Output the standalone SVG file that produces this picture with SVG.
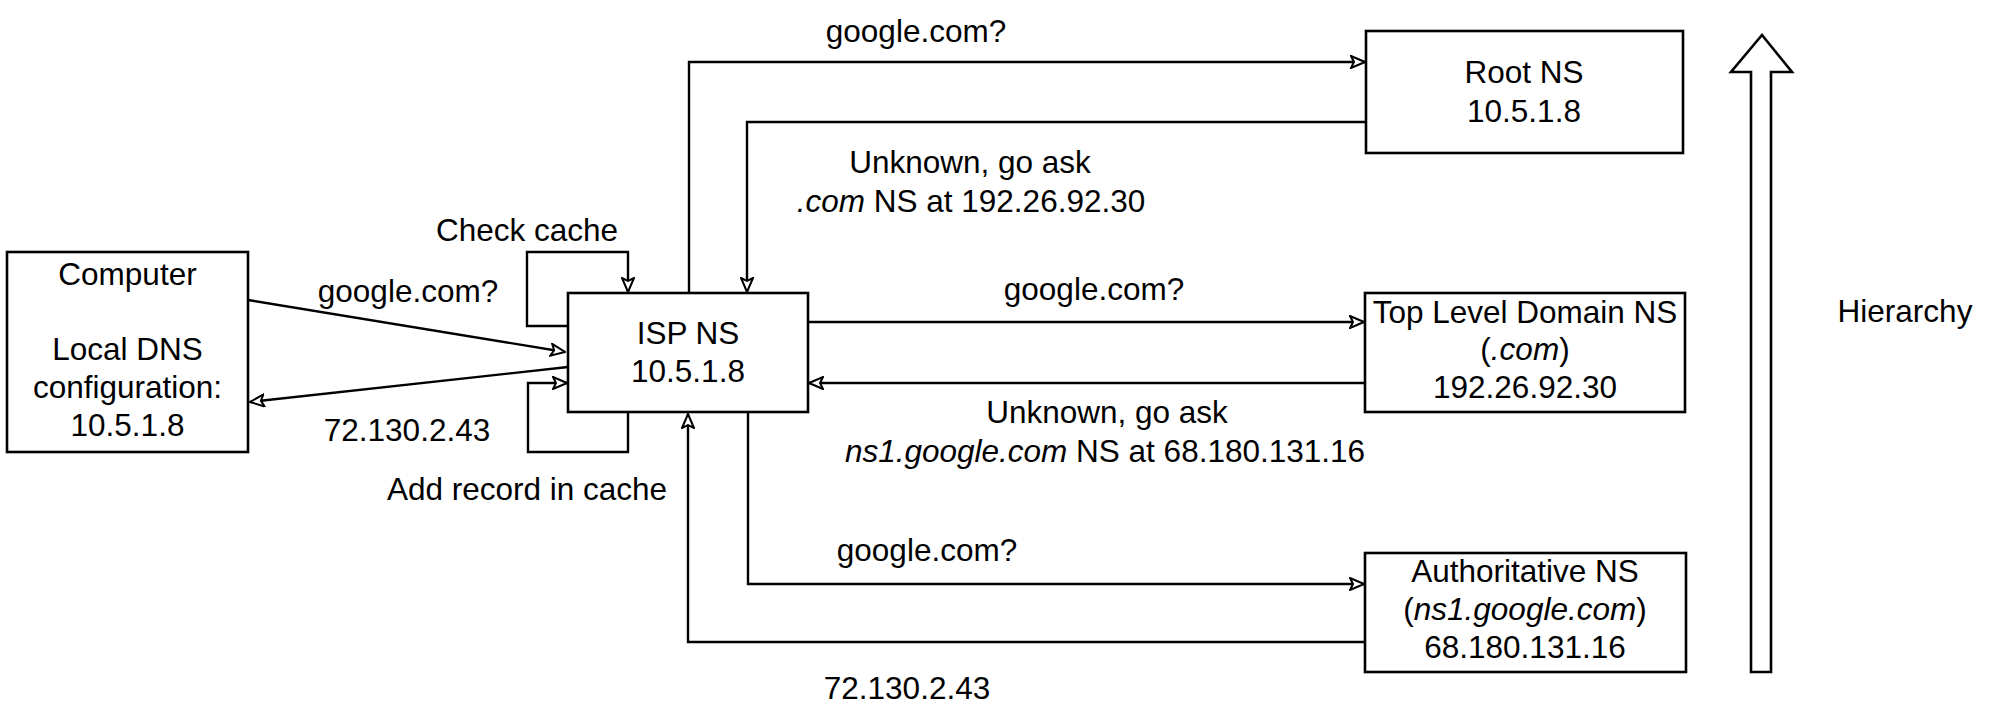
<svg xmlns="http://www.w3.org/2000/svg" width="2010" height="716" viewBox="0 0 2010 716">
<defs>
<style>
.box{fill:#fff;stroke:#000;stroke-width:2.6}
.edge{fill:none;stroke:#000;stroke-width:2.4}
text{font-family:"Liberation Sans",Arial,Helvetica,sans-serif;font-size:31.5px;fill:#000;text-anchor:middle}
.it{font-style:italic}
</style>
<marker id="arr" markerUnits="userSpaceOnUse" viewBox="0 0 16 14" refX="15" refY="7" markerWidth="16" markerHeight="14" orient="auto">
<path d="M1,1 L15,7 L1,13 L4,7 Z" fill="#fff" stroke="#000" stroke-width="2" stroke-linejoin="miter"/>
</marker>
</defs>
<rect width="2010" height="716" fill="#fff"/>

<g id="connectors">
<path class="edge" d="M248 300 L565 352" marker-end="url(#arr)"/>
<path class="edge" d="M568 367 L250 402" marker-end="url(#arr)"/>
<path class="edge" d="M568 326 L527 326 L527 252 L628 252 L628 292" marker-end="url(#arr)"/>
<path class="edge" d="M628 412 L628 452 L528 452 L528 383 L567 383" marker-end="url(#arr)"/>
<path class="edge" d="M689 293 L689 62 L1365 62" marker-end="url(#arr)"/>
<path class="edge" d="M1366 122 L747 122 L747 292" marker-end="url(#arr)"/>
<path class="edge" d="M808 322 L1364 322" marker-end="url(#arr)"/>
<path class="edge" d="M1365 383 L809 383" marker-end="url(#arr)"/>
<path class="edge" d="M748 412 L748 584 L1364 584" marker-end="url(#arr)"/>
<path class="edge" d="M1365 642 L688 642 L688 414" marker-end="url(#arr)"/>
</g>

<g id="labels">
<text x="408" y="302">google.com?</text>
<text x="407" y="441">72.130.2.43</text>
<text x="527" y="241">Check cache</text>
<text x="527" y="500">Add record in cache</text>
<text x="916" y="42">google.com?</text>
<text x="970" y="173">Unknown, go ask</text>
<text x="971" y="212"><tspan class="it">.com</tspan> NS at 192.26.92.30</text>
<text x="1094" y="300">google.com?</text>
<text x="1107" y="423">Unknown, go ask</text>
<text x="1105" y="462"><tspan class="it">ns1.google.com</tspan> NS at 68.180.131.16</text>
<text x="927" y="561">google.com?</text>
<text x="907" y="699">72.130.2.43</text>
</g>

<g id="computer">
<rect class="box" x="7" y="252" width="241" height="200"/>
<text x="127.5" y="285">Computer</text>
<text x="127.5" y="360">Local DNS</text>
<text x="127.5" y="398">configuration:</text>
<text x="127.5" y="436">10.5.1.8</text>
</g>

<g id="isp-ns">
<rect class="box" x="568" y="293" width="240" height="119"/>
<text x="688" y="344">ISP NS</text>
<text x="688" y="382">10.5.1.8</text>
</g>

<g id="root-ns">
<rect class="box" x="1366" y="31" width="317" height="122"/>
<text x="1524" y="83">Root NS</text>
<text x="1524" y="122">10.5.1.8</text>
</g>

<g id="tld-ns">
<rect class="box" x="1365" y="293" width="320" height="119"/>
<text x="1525" y="323">Top Level Domain NS</text>
<text x="1525" y="360">(<tspan class="it">.com</tspan>)</text>
<text x="1525" y="398">192.26.92.30</text>
</g>

<g id="auth-ns">
<rect class="box" x="1365" y="553" width="321" height="119"/>
<text x="1525" y="582">Authoritative NS</text>
<text x="1525" y="620">(<tspan class="it">ns1.google.com</tspan>)</text>
<text x="1525" y="658">68.180.131.16</text>
</g>

<g id="hierarchy">
<polygon class="box" points="1751,672 1751,72 1731,72 1762,35 1792,72 1771,72 1771,672"/>
<text x="1905" y="322">Hierarchy</text>
</g>
</svg>
